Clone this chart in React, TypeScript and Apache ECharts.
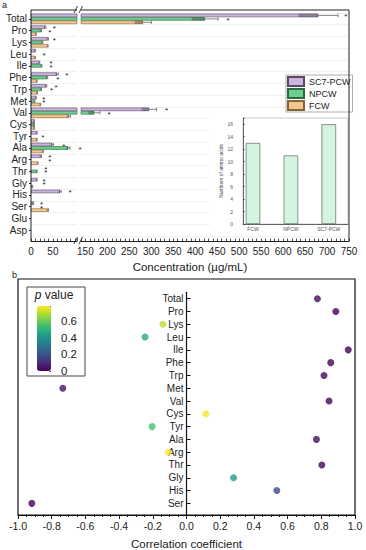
import React, { useEffect, useRef } from 'react';
import * as echarts from 'echarts';

// ---------- Panel a data ----------
const aminoAcids = ['Total', 'Pro', 'Lys', 'Leu', 'Ile', 'Phe', 'Trp', 'Met', 'Val', 'Cys', 'Tyr', 'Ala', 'Arg', 'Thr', 'Gly', 'His', 'Ser', 'Glu', 'Asp'];
const seriesNames = ['SC7-PCW', 'NPCW', 'FCW'];
const sc7Values = [680, 32, 38, 9, 19, 59, 34, 11, 295, 7, 13, 48, 22, 0, 13, 66, 5, 0, 0];
const npcwValues = [422, 22, 26, 0, 24, 36, 23, 8, 170, 7, 0, 85, 0, 13, 0, 0, 0, 0, 0];
const fcwValues = [281, 11, 38, 9, 0, 13, 14, 21, 86, 7, 13, 27, 15, 0, 3, 0, 38, 0, 0];
const sc7Sd = [45, 2, 2, 1, 1, 3, 2, 1, 17, 1, 1, 3, 2, 0, 1, 3, 1, 0, 0];
const npcwSd = [30, 2, 1, 0, 1, 2, 1, 1, 13, 1, 0, 4, 0, 1, 0, 0, 0, 0, 0];
const fcwSd = [19, 1, 1, 1, 0, 1, 1, 1, 4, 1, 1, 1, 1, 0, 1, 0, 2, 0, 0];
// significance marks: [value, category index, bar row (0 = SC7-PCW, 1 = NPCW, 2 = FCW)]
const sigMarks = [
  [743, 0, 0], [475, 0, 1],
  [53, 1, 0], [43, 1, 1],
  [53, 2, 0],
  [30, 3, 1],
  [46, 4, 0], [46, 4, 1],
  [82, 5, 0], [61, 5, 1],
  [57, 6, 0], [47, 6, 1],
  [29, 7, 0], [29, 7, 1],
  [335, 8, 0], [204, 8, 1],
  [27, 10, 1],
  [75, 11, 0], [112, 11, 1],
  [43, 12, 0], [43, 12, 1],
  [34, 13, 0], [34, 13, 1],
  [30, 14, 0], [30, 14, 1],
  [89, 15, 0],
  [24, 16, 0], [24, 16, 1],
];
const concTicks = [0, 50, 150, 200, 250, 300, 350, 400, 450, 500, 550, 600, 650, 700, 750];

// inset
const insetGroups = ['FCW', 'NPCW', 'SC7-PCW'];
const insetCounts = [13, 11, 16];
const insetTicks = [0, 2, 4, 6, 8, 10, 12, 14, 16];

// ---------- Panel b data ----------
const corrLabels = ['Total', 'Pro', 'Lys', 'Leu', 'Ile', 'Phe', 'Trp', 'Met', 'Val', 'Cys', 'Tyr', 'Ala', 'Arg', 'Thr', 'Gly', 'His', 'Ser'];
const corrValues = [0.777, 0.886, -0.14, -0.246, 0.96, 0.856, 0.816, -0.734, 0.846, 0.115, -0.204, 0.771, -0.108, 0.803, 0.279, 0.536, -0.918];
const pValues = [0.02, 0.003, 0.70, 0.47, 0.0002, 0.006, 0.013, 0.04, 0.008, 0.77, 0.55, 0.025, 0.78, 0.016, 0.44, 0.17, 0.001];
const pTicks = [0, 0.2, 0.4, 0.6];

const FONT = 'Liberation Sans, Arial, sans-serif';
const barFills = ['#cdb3e0', '#6ccf8e', '#f7c68c'];
const barBorders = ['#5a4a66', '#2d6a43', '#86663c'];
const viridis = ['#440154', '#482878', '#3e4989', '#31688e', '#26828e', '#1f9e89', '#35b779', '#6ece58', '#b5de2b', '#fde725'];
const LEFT_MAX = 105, RIGHT_MIN = 140, RIGHT_MAX = 750;

function buildOption() {
  const valueSets = [sc7Values, npcwValues, fcwValues];
  const sdSets = [sc7Sd, npcwSd, fcwSd];

  const barSeries: any[] = [];
  for (let g = 0; g < 2; g++) {
    for (let s = 0; s < 3; s++) {
      barSeries.push({
        type: 'bar',
        name: seriesNames[s],
        xAxisIndex: g,
        yAxisIndex: g,
        data: valueSets[s].map((v) => (v === 0 ? null : g === 1 && v <= RIGHT_MIN ? null : v)),
        barGap: '0%',
        barCategoryGap: '12%',
        itemStyle: { color: barFills[s], borderColor: barBorders[s], borderWidth: 0.6 },
        clip: true,
        z: 2,
      });
    }
  }

  const errLeft: number[][] = [];
  const errRight: number[][] = [];
  for (let s = 0; s < 3; s++) {
    for (let c = 0; c < aminoAcids.length; c++) {
      const v = valueSets[s][c];
      const sd = sdSets[s][c];
      if (!v || !sd) continue;
      if (v + sd <= LEFT_MAX) errLeft.push([v, c, sd, s]);
      else if (v - sd >= RIGHT_MIN) errRight.push([v, c, sd, s]);
    }
  }
  const sigLeft = sigMarks.filter((m) => m[0] <= 120);
  const sigRight = sigMarks.filter((m) => m[0] > 120);

  const errRender = (params: any, api: any) => {
    const v = api.value(0), c = api.value(1), sd = api.value(2), r = api.value(3);
    const bh = (api.size([0, 1])[1] * 0.88) / 3;
    const mid = api.coord([v, c]);
    const lo = api.coord([v - sd, c]);
    const hi = api.coord([v + sd, c]);
    const y = mid[1] + (r - 1) * bh;
    return {
      type: 'group',
      children: [
        { type: 'rect', shape: { x: lo[0], y: y - bh / 2, width: mid[0] - lo[0], height: bh }, style: { fill: 'rgba(40,40,40,0.35)' } },
        { type: 'line', shape: { x1: mid[0], y1: y, x2: hi[0], y2: y }, style: { stroke: '#666', lineWidth: 0.8 } },
        { type: 'line', shape: { x1: hi[0], y1: y - bh / 2, x2: hi[0], y2: y + bh / 2 }, style: { stroke: '#666', lineWidth: 0.8 } },
      ],
    };
  };
  const sigRender = (params: any, api: any) => {
    const p = api.coord([api.value(0), api.value(1)]);
    const bh = (api.size([0, 1])[1] * 0.88) / 3;
    const y = p[1] + (api.value(2) - 1) * bh;
    return {
      type: 'text',
      x: p[0],
      y: y + 1.5,
      style: {
        text: '*', fontSize: 8, fontFamily: FONT, fill: '#222',
        align: 'center', verticalAlign: 'middle', textAlign: 'center', textVerticalAlign: 'middle',
      },
    };
  };

  const catAxisBase = {
    type: 'category',
    data: aminoAcids,
    inverse: true,
  };

  const concLabel = (v: number) => (concTicks.indexOf(v) >= 0 ? String(v) : '');

  const txt = (text: string, x: number, y: number, size: number, align = 'left', vAlign = 'top', extra: any = {}) => ({
    type: 'text',
    x, y, z: 20, silent: true,
    style: {
      text, fontSize: size, fontFamily: FONT, fill: '#222',
      align, verticalAlign: vAlign, textAlign: align, textVerticalAlign: vAlign, ...extra,
    },
  });
  const ln = (x1: number, y1: number, x2: number, y2: number, stroke = '#222', w = 1, z = 20) => ({
    type: 'line', z, silent: true, shape: { x1, y1, x2, y2 }, style: { stroke, lineWidth: w },
  });

  const scatterIndex = 11;
  const series: any[] = [
    ...barSeries, // 0..5
    { type: 'custom', xAxisIndex: 0, yAxisIndex: 0, data: errLeft, renderItem: errRender, encode: { x: 0, y: 1 }, z: 3, silent: true }, // 6
    { type: 'custom', xAxisIndex: 1, yAxisIndex: 1, data: errRight, renderItem: errRender, encode: { x: 0, y: 1 }, z: 3, silent: true }, // 7
    { type: 'custom', xAxisIndex: 0, yAxisIndex: 0, data: sigLeft, renderItem: sigRender, encode: { x: 0, y: 1 }, z: 3, silent: true }, // 8
    { type: 'custom', xAxisIndex: 1, yAxisIndex: 1, data: sigRight, renderItem: sigRender, encode: { x: 0, y: 1 }, z: 3, silent: true }, // 9
    {
      type: 'bar', xAxisIndex: 2, yAxisIndex: 2, // 10
      data: insetCounts.map((v, i) => [i, v]),
      barWidth: 14.5,
      itemStyle: { color: '#d3f4de', borderColor: '#666', borderWidth: 0.7 },
      z: 6,
    },
    {
      type: 'scatter', xAxisIndex: 3, yAxisIndex: 3, // 11
      data: corrValues.map((r, i) => [r, i, pValues[i]]),
      symbolSize: 7,
      z: 3,
    },
    { type: 'line', xAxisIndex: 4, yAxisIndex: 4, data: [], silent: true }, // 12
  ];

  return {
    animation: false,
    backgroundColor: '#fff',
    textStyle: { fontFamily: FONT },
    legend: {
      data: seriesNames,
      orient: 'vertical',
      left: 286,
      top: 75,
      itemWidth: 16,
      itemHeight: 9,
      itemGap: 1,
      padding: [1, 2, 1, 1],
      borderColor: '#999',
      borderWidth: 0.8,
      backgroundColor: '#fff',
      icon: 'rect',
      textStyle: { fontSize: 9, color: '#222', lineHeight: 9, fontFamily: FONT },
      selectedMode: false,
      z: 8,
    },
    visualMap: {
      type: 'continuous',
      min: 0,
      max: 0.78,
      dimension: 2,
      seriesIndex: scatterIndex,
      inRange: { color: viridis },
      left: 37,
      top: 306,
      itemWidth: 14,
      itemHeight: 65,
      padding: 0,
      calculable: false,
      hoverLink: false,
      text: null,
    },
    grid: [
      { left: 31, top: 13, width: 46, height: 223, outerBoundsMode: 'none' },
      { left: 81, top: 13, width: 268, height: 223, outerBoundsMode: 'none' },
      { left: 243, top: 118, width: 105, height: 106, show: true, borderColor: '#aaa', borderWidth: 0.6, backgroundColor: '#fff', z: 5, outerBoundsMode: 'none' },
      { left: 18, top: 292.3, width: 337, height: 222.7, outerBoundsMode: 'none' },
      { left: 37, top: 306, width: 14, height: 65, outerBoundsMode: 'none' },
    ],
    xAxis: [
      {
        type: 'value', gridIndex: 0, min: 0, max: LEFT_MAX, interval: 10, offset: 5,
        axisLine: { show: true, onZero: false, lineStyle: { color: '#222', width: 1 } },
        axisTick: { show: true, inside: true, length: 2.5, lineStyle: { color: '#222', width: 0.8 } },
        axisLabel: { formatter: concLabel, fontSize: 10, color: '#222', margin: 5, showMinLabel: true, showMaxLabel: true },
        splitLine: { show: false },
      },
      {
        type: 'value', gridIndex: 1, min: RIGHT_MIN, max: RIGHT_MAX, interval: 10, offset: 5,
        axisLine: { show: true, onZero: false, lineStyle: { color: '#222', width: 1 } },
        axisTick: { show: true, inside: true, length: 2.5, lineStyle: { color: '#222', width: 0.8 } },
        axisLabel: { formatter: concLabel, fontSize: 10, color: '#222', margin: 5, showMinLabel: true, showMaxLabel: true },
        splitLine: { show: false },
      },
      {
        type: 'value', gridIndex: 2, min: -0.264, max: 2.507, z: 6,
        axisLine: { show: true, onZero: false, lineStyle: { color: '#444', width: 0.8 } },
        axisTick: { show: false },
        axisLabel: { customValues: [0, 1, 2], formatter: (v: number) => insetGroups[Math.round(v)] || '', fontSize: 5, color: '#555', margin: 2 },
        splitLine: { show: false },
      },
      {
        type: 'value', gridIndex: 3, min: -1, max: 1, interval: 0.2,
        axisLine: { show: true, onZero: false, lineStyle: { color: '#111', width: 1.2 } },
        axisTick: { show: true, length: 4, lineStyle: { color: '#111' } },
        minorTick: { show: true, splitNumber: 4, length: 2, lineStyle: { color: '#111' } },
        axisLabel: { formatter: (v: number) => (Math.abs(v) < 1e-9 ? '0.0' : v.toFixed(1)), fontSize: 10.5, color: '#222', margin: 5 },
        splitLine: { show: false },
        name: 'Correlation coefficient',
        nameLocation: 'middle',
        nameGap: 23,
        nameTextStyle: { fontSize: 11.5, color: '#222' },
      },
      { type: 'value', gridIndex: 4, min: 0, max: 1, show: false },
    ],
    yAxis: [
      {
        ...catAxisBase, gridIndex: 0,
        axisLine: { show: false },
        axisTick: { show: true, length: 2, alignWithLabel: true, lineStyle: { color: '#222' } },
        axisLabel: { fontSize: 10, color: '#222', margin: 4, interval: 0 },
        splitLine: { show: true, interval: 0, lineStyle: { color: '#e6e6e6', width: 0.6 } },
      },
      {
        ...catAxisBase, gridIndex: 1,
        axisLine: { show: false },
        axisTick: { show: false },
        axisLabel: { show: false },
        splitLine: { show: true, interval: 0, lineStyle: { color: '#e6e6e6', width: 0.6 } },
      },
      {
        type: 'value', gridIndex: 2, min: 0, max: 17, interval: 2, z: 6,
        axisLine: { show: true, onZero: false, lineStyle: { color: '#444', width: 0.8 } },
        axisTick: { show: true, inside: true, length: 2, lineStyle: { color: '#444', width: 0.6 } },
        axisLabel: { formatter: (v: number) => (insetTicks.indexOf(v) >= 0 ? String(v) : ''), fontSize: 5, color: '#555', margin: 10 },
        splitLine: { show: false },
        name: 'Numbers of amino acids',
        nameLocation: 'middle',
        nameGap: 20,
        nameTextStyle: { fontSize: 5, color: '#444' },
      },
      {
        type: 'value', gridIndex: 3, min: -0.5, max: 16.91, inverse: true, offset: -168.5,
        axisLine: { show: true, onZero: false, lineStyle: { color: '#111', width: 1.2 } },
        axisTick: { show: true, inside: true, length: 4, customValues: corrLabels.map((_, i) => i), lineStyle: { color: '#111' } },
        axisLabel: { customValues: corrLabels.map((_, i) => i), formatter: (v: number) => corrLabels[Math.round(v)] || '', fontSize: 10, color: '#222', margin: 3 },
        splitLine: { show: false },
      },
      {
        type: 'value', gridIndex: 4, min: 0, max: 0.78, interval: 0.2, position: 'right',
        axisLine: { show: false, onZero: false },
        axisTick: { show: true, inside: true, length: 2, lineStyle: { color: '#333', width: 0.8 } },
        axisLabel: {
          formatter: (v: number) => {
            const hit = pTicks.find((t) => Math.abs(t - v) < 1e-6);
            return hit === undefined ? '' : String(hit);
          },
          fontSize: 11.5, color: '#222', margin: 10,
        },
        splitLine: { show: false },
      },
    ],
    graphic: [
      // panel labels
      txt('a', 2, 0, 9),
      txt('b', 12, 270, 9),
      // inset white background
      { type: 'rect', z: 1, silent: true, shape: { x: 210, y: 118, width: 138.5, height: 118 }, style: { fill: '#fff' } },
      // panel a frame
      ln(31, 10, 31, 241),
      ln(31, 10, 77, 10),
      ln(81, 10, 349, 10),
      ln(349, 10, 349, 241),
      // axis breaks
      ln(74, 13, 77.5, 6, '#222', 0.9),
      ln(79, 13, 82.5, 6, '#222', 0.9),
      ln(74, 244, 77.5, 237, '#222', 0.9),
      ln(79, 244, 82.5, 237, '#222', 0.9),
      // x axis title of panel a
      txt('Concentration (µg/mL)', 190, 267, 11.5, 'center', 'middle'),
      // panel b frame
      { type: 'rect', z: 20, silent: true, shape: { x: 18, y: 279, width: 337, height: 236 }, style: { fill: 'none', stroke: '#111', lineWidth: 1.2 } },
      // p value box
      { type: 'rect', z: 20, silent: true, shape: { x: 27, y: 287, width: 58, height: 89 }, style: { fill: 'none', stroke: '#444', lineWidth: 1 } },
      {
        type: 'text', x: 54, y: 294.5, z: 20, silent: true,
        style: {
          text: '{i|p} value', fontSize: 12, fontFamily: FONT, fill: '#222',
          align: 'center', verticalAlign: 'middle', textAlign: 'center', textVerticalAlign: 'middle',
          rich: { i: { fontStyle: 'italic', fontSize: 12, fontFamily: FONT, fill: '#222' } },
        },
      },
    ],
    series,
  };
}

export default function App() {
  const ref = useRef<HTMLDivElement>(null);
  useEffect(() => {
    if (!ref.current) return;
    const chart = echarts.init(ref.current, undefined, { renderer: 'svg' });
    chart.setOption(buildOption() as any);
    return () => chart.dispose();
  }, []);
  return (
    <div
      ref={ref}
      style={{ position: 'fixed', left: 0, top: 0, width: 366, height: 550, background: '#fff' }}
    />
  );
}
